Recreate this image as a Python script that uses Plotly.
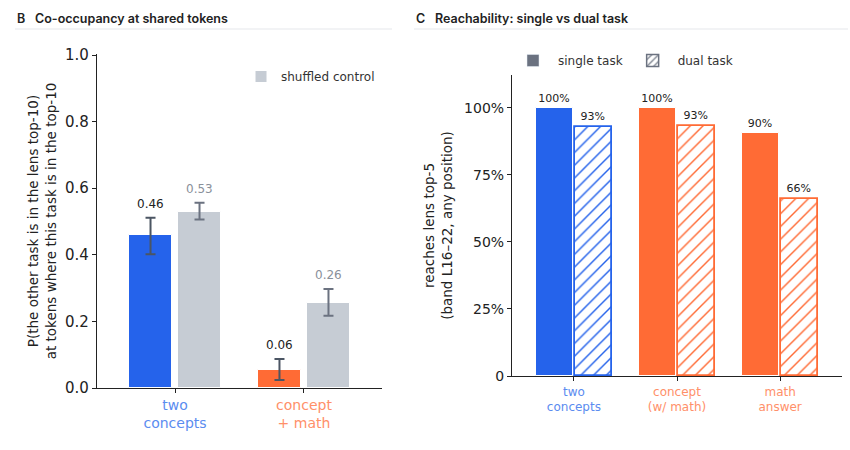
import plotly.graph_objects as go

# ---- Panel B data ----
b_categories = ["two<br>concepts", "concept<br>+ math"]
b_observed = [0.46, 0.055]
b_obs_lo = [0.402, 0.024]
b_obs_hi = [0.511, 0.087]
b_control = [0.53, 0.256]
b_ctl_lo = [0.506, 0.217]
b_ctl_hi = [0.556, 0.297]
b_obs_labels = ["0.46", "0.06"]
b_ctl_labels = ["0.53", "0.26"]
b_yticks = [0.0, 0.2, 0.4, 0.6, 0.8, 1.0]

# ---- Panel C data ----
c_categories = ["two<br>concepts", "concept<br>(w/ math)", "math<br>answer"]
c_single = [1.00, 1.00, 0.905]
c_dual = [0.93, 0.933, 0.658]
c_single_labels = ["100%", "100%", "90%"]
c_dual_labels = ["93%", "93%", "66%"]
c_yticks = [0, 0.25, 0.5, 0.75, 1.0]
c_yticklabels = ["0", "25%", "50%", "75%", "100%"]

BLUE = "#2563eb"
ORANGE = "#ff6b35"
GRAY = "#c6ccd4"
ERR = "#4b5563"
b_colors = [BLUE, ORANGE]
c_colors = [BLUE, ORANGE, ORANGE]
b_tick_colors = ["#5b8cf0", "#ff9069"]
c_tick_colors = ["#5b8cf0", "#ff9069", "#ff9069"]

FONT = "DejaVu Sans"
W, H = 850, 450
fig = go.Figure()

xb = list(range(len(b_categories)))
xc = list(range(len(c_categories)))

fig.add_trace(go.Bar(
    x=xb, y=b_observed, marker=dict(color=b_colors, line=dict(color="white", width=1)),
    offset=-0.36, width=0.34, showlegend=False, xaxis="x", yaxis="y",
    error_y=dict(type="data", symmetric=False,
                 array=[h - v for h, v in zip(b_obs_hi, b_observed)],
                 arrayminus=[v - l for l, v in zip(b_obs_lo, b_observed)],
                 color=ERR, thickness=2, width=5),
))
fig.add_trace(go.Bar(
    x=xb, y=b_control, name="shuffled control",
    marker=dict(color=GRAY, line=dict(color="white", width=1)),
    offset=0.02, width=0.34, showlegend=True, legend="legend", xaxis="x", yaxis="y",
    error_y=dict(type="data", symmetric=False,
                 array=[h - v for h, v in zip(b_ctl_hi, b_control)],
                 arrayminus=[v - l for l, v in zip(b_ctl_lo, b_control)],
                 color="#6b7280", thickness=2, width=5),
))

fig.add_trace(go.Bar(
    x=xc, y=c_single, marker=dict(color=c_colors, line=dict(color="white", width=1)),
    offset=-0.37, width=0.36, showlegend=False, xaxis="x2", yaxis="y2",
    text=c_single_labels, textposition="outside", cliponaxis=False,
    textfont=dict(family=FONT, size=11, color="#222"),
))
fig.add_trace(go.Bar(
    x=xc, y=c_dual,
    marker=dict(color="white", line=dict(color=c_colors, width=1.8),
                pattern=dict(shape="/", fgcolor=c_colors, bgcolor="white", size=9,
                             solidity=0.16, fgopacity=1)),
    offset=0.01, width=0.36, showlegend=False, xaxis="x2", yaxis="y2",
    text=c_dual_labels, textposition="outside", cliponaxis=False,
    textfont=dict(family=FONT, size=11, color="#222"),
))
# legend entries for panel C
fig.add_trace(go.Bar(x=[None], y=[None], name="single task", marker=dict(color="#6b7280"),
                     xaxis="x2", yaxis="y2", legend="legend2"))
fig.add_trace(go.Bar(x=[None], y=[None], name="dual task",
                     marker=dict(color="white", line=dict(color="#6b7280", width=1.5),
                                 pattern=dict(shape="/", fgcolor="#6b7280", bgcolor="white", size=6,
                                              solidity=0.25, fgopacity=1)),
                     xaxis="x2", yaxis="y2", legend="legend2"))

# value labels for panel B above error bars
for i in xb:
    fig.add_annotation(x=i - 0.19, y=b_obs_hi[i], xref="x", yref="y", text=b_obs_labels[i],
                       showarrow=False, yanchor="bottom", yshift=5,
                       font=dict(family=FONT, size=12, color="#222"))
    fig.add_annotation(x=i + 0.19, y=b_ctl_hi[i], xref="x", yref="y", text=b_ctl_labels[i],
                       showarrow=False, yanchor="bottom", yshift=5,
                       font=dict(family=FONT, size=12, color="#8a909a"))

# panel titles (pixel positions converted to paper fractions)
TF = dict(family="Inter", size=12.5, color="#222", weight=600)
titles = [(15, "B"), (33, "Co-occupancy at shared tokens"),
          (414, "C"), (433, "Reachability: single vs dual task")]
for px, txt in titles:
    fig.add_annotation(x=px / W, y=1 - 18 / H, xref="paper", yref="paper", text=txt, showarrow=False,
                       xanchor="left", yanchor="middle", font=TF)

fig.add_shape(type="line", xref="paper", yref="paper", x0=15 / W, x1=392 / W, y0=1 - 29 / H, y1=1 - 29 / H,
              line=dict(color="#e5e7eb", width=1))
fig.add_shape(type="line", xref="paper", yref="paper", x0=414 / W, x1=848 / W, y0=1 - 29 / H, y1=1 - 29 / H,
              line=dict(color="#e5e7eb", width=1))

axis_common = dict(showline=True, linecolor="#222", linewidth=1.2, ticks="outside", tickcolor="#222",
                   ticklen=4, showgrid=False, zeroline=False, automargin=False)

fig.update_layout(
    width=W, height=H, margin=dict(l=0, r=0, t=0, b=0, autoexpand=False),
    paper_bgcolor="white", plot_bgcolor="white",
    font=dict(family=FONT, color="#222"),
    xaxis=dict(domain=[97 / W, 382 / W], range=[-0.605, 1.605], tickvals=xb,
               ticktext=[f'<span style="color:{c}">{t}</span>' for t, c in zip(b_categories, b_tick_colors)],
               tickfont=dict(size=14), anchor="y", **axis_common),
    yaxis=dict(domain=[1 - 388 / H, 1 - 54 / H], range=[0, 1.003], tickvals=b_yticks,
               ticktext=[f"{v:.1f}" for v in b_yticks], tickfont=dict(size=15), anchor="x",
               title=dict(text="P(the other task is in the lens top-10)<br>at tokens where this task is in the top-10",
                          font=dict(size=13.5), standoff=5),
               **axis_common),
    xaxis2=dict(domain=[512 / W, 842 / W], range=[-0.6, 2.6], tickvals=xc,
                ticktext=[f'<span style="color:{c}">{t}</span>' for t, c in zip(c_categories, c_tick_colors)],
                tickfont=dict(size=12), anchor="y2", **axis_common),
    yaxis2=dict(domain=[1 - 376 / H, 1 - 75 / H], range=[0, 1.122], tickvals=c_yticks,
                ticktext=c_yticklabels, tickfont=dict(size=14), anchor="x2",
                title=dict(text="reaches lens top-5<br>(band L16–22, any position)",
                           font=dict(size=13.5), standoff=8),
                **axis_common),
    legend=dict(x=241 / W, y=1 - 62 / H, xanchor="left", yanchor="top", bgcolor="rgba(0,0,0,0)",
                font=dict(size=12, color="#333")),
    legend2=dict(x=508 / W, y=1 - 46 / H, xanchor="left", yanchor="top", orientation="h",
                 bgcolor="rgba(0,0,0,0)", font=dict(size=12, color="#333"), itemwidth=40),
    bargap=0,
)

fig.write_html("out.html", config={"displayModeBar": False},
               post_script="document.body.style.margin='0';")
